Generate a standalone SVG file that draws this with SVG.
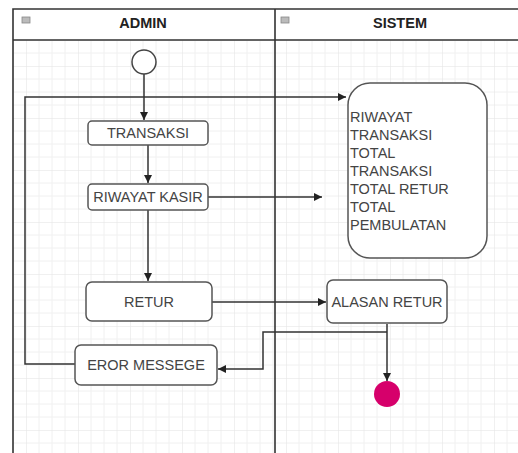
<svg xmlns="http://www.w3.org/2000/svg" width="518" height="453" viewBox="0 0 518 453">
<defs>
<pattern id="grid" x="0" y="0" width="52" height="52" patternUnits="userSpaceOnUse" patternTransform="translate(26,14)">
<path d="M13,0V52M26,0V52M39,0V52M0,13H52M0,26H52M0,39H52" stroke="#f0f0f0" stroke-width="1" fill="none"/>
<path d="M0,0V52M0,0H52" stroke="#e2e2e2" stroke-width="1" fill="none"/>
</pattern>
<marker id="arr" markerWidth="8" markerHeight="8" refX="8" refY="4" orient="auto" markerUnits="userSpaceOnUse">
<path d="M0,0 L8,4 L0,8 Z" fill="#222"/>
</marker>
<style>
.lane{fill:none;stroke:#333;stroke-width:1.6}
.box{fill:#fff;stroke:#555;stroke-width:1.5}
.txt{font-family:"Liberation Sans",Arial,sans-serif;font-size:14.5px;fill:#444}
.hdr{font-family:"Liberation Sans",Arial,sans-serif;font-size:14.5px;font-weight:bold;fill:#222}
.edge{fill:none;stroke:#333;stroke-width:1.5}
.icon{fill:#bbb;stroke:#888;stroke-width:0.8}
</style>
</defs>
<rect x="0" y="0" width="518" height="453" fill="#fff"/>
<rect x="13" y="40" width="505" height="413" fill="url(#grid)"/>
<g id="swimlanes">
<path class="lane" d="M13,453V9H518M13,40H518M275,9V453"/>
<rect class="icon" x="22" y="17" width="8" height="6"/>
<rect class="icon" x="281" y="17" width="8" height="6"/>
<text class="hdr" x="143" y="28" text-anchor="middle">ADMIN</text>
<text class="hdr" x="400" y="28" text-anchor="middle">SISTEM</text>
</g>
<g id="connectors">
<path class="edge" d="M144,74V120" marker-end="url(#arr)"/>
<path class="edge" d="M148,145V183" marker-end="url(#arr)"/>
<path class="edge" d="M148,210V281" marker-end="url(#arr)"/>
<path class="edge" d="M208,197H322" marker-end="url(#arr)"/>
<path class="edge" d="M212,302H326" marker-end="url(#arr)"/>
<path class="edge" d="M387,324V381" marker-end="url(#arr)"/>
<path class="edge" d="M387,332H263V369H218" marker-end="url(#arr)"/>
<path class="edge" d="M75,364H25V97H346" marker-end="url(#arr)"/>
</g>
<g id="start">
<circle cx="144" cy="62" r="12" fill="#fff" stroke="#444" stroke-width="1.5"/>
</g>
<g id="transaksi">
<rect class="box" x="88" y="121" width="120" height="24" rx="4"/>
<text class="txt" x="148" y="138" text-anchor="middle">TRANSAKSI</text>
</g>
<g id="riwayat-kasir">
<rect class="box" x="88" y="184" width="120" height="26" rx="4"/>
<text class="txt" x="148" y="202" text-anchor="middle">RIWAYAT KASIR</text>
</g>
<g id="retur">
<rect class="box" x="86" y="282" width="126" height="39" rx="6"/>
<text class="txt" x="149" y="307" text-anchor="middle">RETUR</text>
</g>
<g id="eror-messege">
<rect class="box" x="75" y="345" width="142" height="40" rx="6"/>
<text class="txt" x="146" y="370" text-anchor="middle">EROR MESSEGE</text>
</g>
<g id="riwayat-transaksi">
<rect class="box" x="348" y="83" width="139" height="175" rx="22"/>
<text class="txt" x="350" y="122">RIWAYAT</text>
<text class="txt" x="350" y="140">TRANSAKSI</text>
<text class="txt" x="350" y="158">TOTAL</text>
<text class="txt" x="350" y="176">TRANSAKSI</text>
<text class="txt" x="350" y="194">TOTAL RETUR</text>
<text class="txt" x="350" y="212">TOTAL</text>
<text class="txt" x="350" y="230">PEMBULATAN</text>
</g>
<g id="alasan-retur">
<rect class="box" x="327" y="280" width="120" height="43" rx="6"/>
<text class="txt" x="387" y="307" text-anchor="middle">ALASAN RETUR</text>
</g>
<g id="end">
<circle cx="387" cy="394" r="13" fill="#d6006b"/>
</g>
</svg>
